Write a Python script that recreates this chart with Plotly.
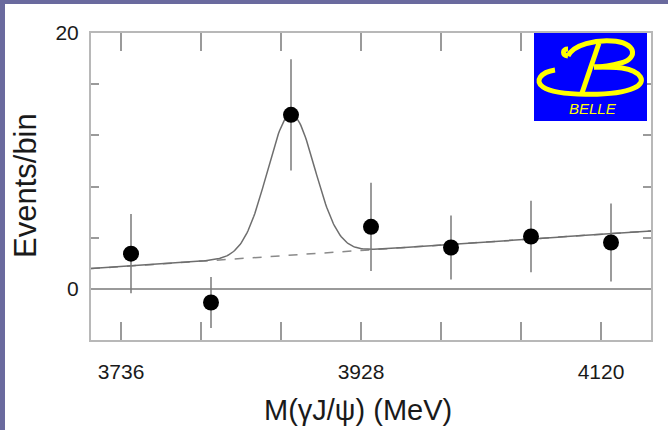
import numpy as np
import plotly.graph_objects as go

# ---- data ----
bin_centers = [3744, 3808, 3872, 3936, 4000, 4064, 4128]   # MeV
events = [2.75, -1.07, 13.6, 4.85, 3.23, 4.09, 3.62]        # events / bin
errors = [3.1, 2.0, 4.35, 3.45, 2.5, 2.8, 3.05]

x_tickvals = [3736, 3800, 3864, 3928, 3992, 4056, 4120]
x_ticktext = ["3736", "", "", "3928", "", "", "4120"]
y_tickvals = [0, 4, 8, 12, 16, 20]
y_ticktext = ["0", "", "", "", "", "20"]

# fit parameters (linear background + gaussian signal)
bg_x0 = 3712
bg_at_x0 = 1.58
bg_slope = 0.00658
peak_mean = 3872
peak_sigma = 19.0
peak_amp = 11.0

X_RANGE = [3712, 4160]
Y_RANGE = [-4, 20]

# ---- layout geometry (pixels) ----
W, H = 668, 430
ML, MR, MT, MB = 91, 17, 33, 90
PW, PH = W - ML - MR, H - MT - MB


def px(xp):
    return (xp - ML) / PW


def py(yp):
    return (H - MB - yp) / PH


xs = np.linspace(X_RANGE[0], X_RANGE[1], 500)
bg = bg_at_x0 + bg_slope * (xs - bg_x0)
total = bg + peak_amp * np.exp(-0.5 * ((xs - peak_mean) / peak_sigma) ** 2)

fig = go.Figure()
fig.add_trace(go.Scatter(x=xs, y=bg, mode="lines",
                         line=dict(color="#8a8a8a", width=1.5, dash="dash"),
                         hoverinfo="skip", showlegend=False))
fig.add_trace(go.Scatter(x=xs, y=total, mode="lines",
                         line=dict(color="#6e6e6e", width=1.5),
                         hoverinfo="skip", showlegend=False))
fig.add_trace(go.Scatter(x=bin_centers, y=events, mode="markers",
                         marker=dict(color="black", size=16),
                         error_y=dict(type="data", array=errors, visible=True,
                                      color="#7a7a7a", thickness=1.5, width=0),
                         showlegend=False))

FONT = "Liberation Sans, Arial, sans-serif"
tickfont = dict(family=FONT, size=21, color="#1a1a1a")
fig.update_xaxes(range=X_RANGE, tickvals=x_tickvals, ticktext=x_ticktext,
                 ticks="inside", ticklen=18, tickwidth=1.5, tickcolor="#9a9a9a",
                 showline=True, linecolor="#b8b8b8", linewidth=2, mirror="ticks",
                 showgrid=False, zeroline=False, tickfont=tickfont,
                 ticklabelstandoff=12)
fig.update_yaxes(range=Y_RANGE, tickvals=y_tickvals, ticktext=y_ticktext,
                 ticks="inside", ticklen=8, tickwidth=1.5, tickcolor="#9a9a9a",
                 showline=True, linecolor="#b8b8b8", linewidth=2, mirror="ticks",
                 showgrid=False, zeroline=True, zerolinecolor="#9a9a9a",
                 zerolinewidth=1.5, tickfont=tickfont, ticklabelstandoff=6)

purple = "#6a6a9e"
shapes = [
    # slide border
    dict(type="rect", xref="paper", yref="paper", x0=px(0), x1=px(5), y0=py(430), y1=py(0),
         fillcolor=purple, line=dict(width=0), layer="above"),
    dict(type="rect", xref="paper", yref="paper", x0=px(0), x1=px(668), y0=py(4), y1=py(0),
         fillcolor=purple, line=dict(width=0), layer="above"),
    # BELLE logo box
    dict(type="rect", xref="paper", yref="paper", x0=px(534), x1=px(647), y0=py(121), y1=py(33),
         fillcolor="#0000ff", line=dict(width=0), layer="above"),
]


def path(points_cmds):
    out = []
    for cmd, pts in points_cmds:
        out.append(cmd + " " + " ".join(f"{px(a):.5f},{py(b):.5f}" for a, b in pts))
    return " ".join(out)


yellow = "#ffff00"
upper = path([("M", [(568, 56)]),
              ("C", [(574, 44), (596, 40), (612, 41)]),
              ("C", [(636, 42), (639, 58), (621, 63)]),
              ("C", [(610, 66), (600, 67), (594, 67)])])
lower = path([("M", [(555, 70)]),
              ("C", [(541, 72), (534, 81), (543, 87)]),
              ("C", [(556, 96), (614, 97), (634, 88)]),
              ("C", [(648, 82), (641, 71), (622, 68)]),
              ("C", [(612, 67), (602, 67), (594, 67)])])
stem = path([("M", [(599, 43)]), ("L", [(582, 93)])])
curl = path([("M", [(568, 56)]), ("C", [(562, 55), (562, 49), (568, 49)])])
for p in (upper, lower, stem, curl):
    shapes.append(dict(type="path", xref="paper", yref="paper", path=p,
                       line=dict(color=yellow, width=5), layer="above"))

annotations = [
    dict(text="<i>BELLE</i>", xref="paper", yref="paper", x=px(593), y=py(108),
         showarrow=False, xanchor="center", yanchor="middle",
         font=dict(family=FONT, size=15, color=yellow)),
    dict(text="Events/bin", xref="paper", yref="paper", x=px(25), y=py(186),
         textangle=-90, showarrow=False, xanchor="center", yanchor="middle",
         font=dict(family=FONT, size=31, color="#1a1a1a")),
    dict(text="M(γJ/ψ) (MeV)", xref="paper", yref="paper", x=px(358), y=py(410),
         showarrow=False, xanchor="center", yanchor="middle",
         font=dict(family=FONT, size=29, color="#1a1a1a")),
]

fig.update_layout(width=W, height=H, margin=dict(l=ML, r=MR, t=MT, b=MB),
                  paper_bgcolor="white", plot_bgcolor="white",
                  shapes=shapes, annotations=annotations, showlegend=False)

fig.write_html("out.html", config={"displayModeBar": False},
               post_script="document.body.style.margin='0px';"
                           "document.documentElement.style.margin='0px';")
